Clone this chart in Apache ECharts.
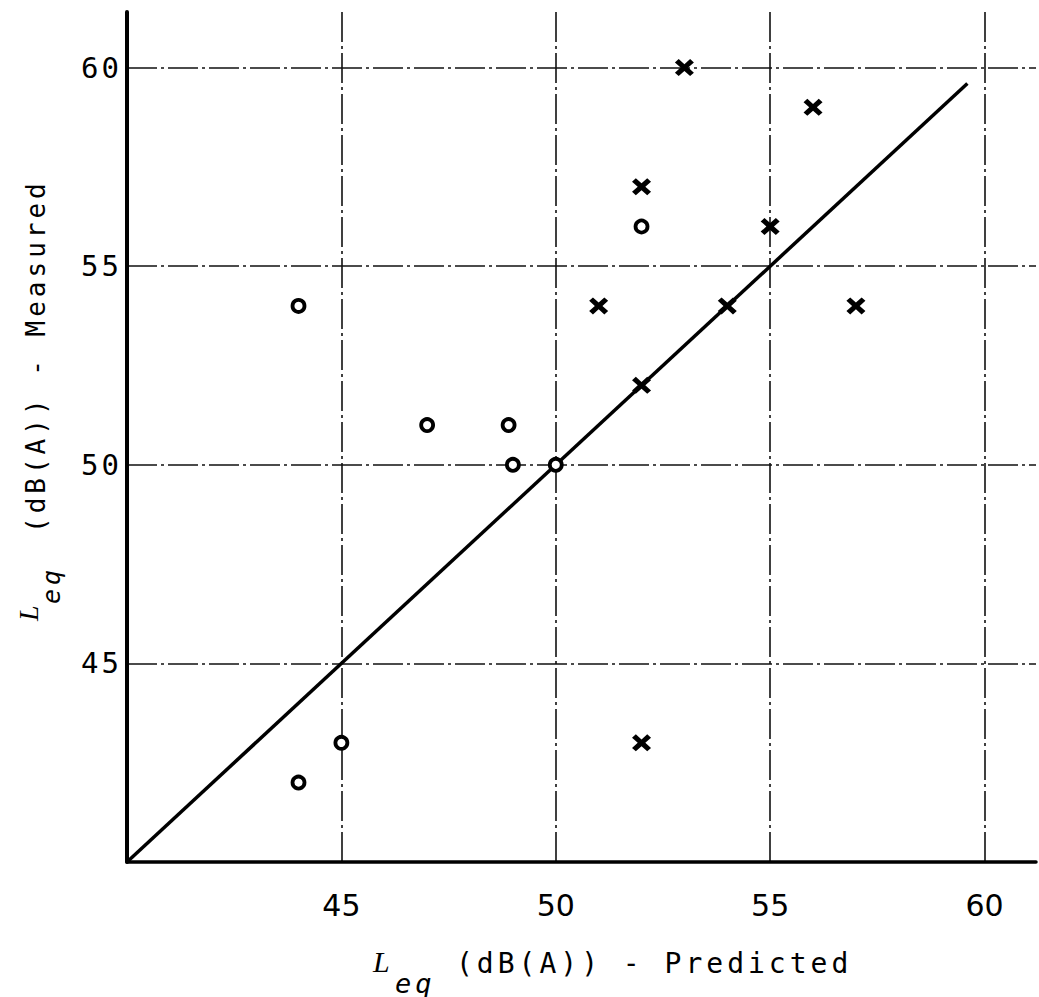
<!DOCTYPE html>
<html>
<head>
<meta charset="utf-8">
<script src="https://cdn.jsdelivr.net/npm/echarts@6/dist/echarts.min.js"></script>
<style>
  html, body { margin: 0; padding: 0; background: #fff; }
  #chart { width: 1039px; height: 997px; }
</style>
</head>
<body>
<div id="chart"></div>
<script>
// Leq in dB(A): predicted (x) against measured (y)
const circlePredicted = [44, 47, 48.9, 49, 50, 52, 44, 45];
const circleMeasured  = [54, 51, 51, 50, 50, 56, 42, 43];

const crossPredicted = [53, 56, 52, 55, 51, 54, 57, 52, 52];
const crossMeasured  = [60, 59, 57, 56, 54, 54, 54, 52, 43];

// line of equality (predicted = measured)
const equalityLine = [40, 59.6];

const xTickLabels = [45, 50, 55, 60];
const yTickLabels = [45, 50, 55, 60];

const xTitle = '(dB(A)) - Predicted';
const yTitle = '(dB(A)) - Measured';
const subscript = 'eq';

const pair = (xs, ys) => xs.map((x, i) => [x, ys[i]]);

const MONO = '"DejaVu Sans Mono", "Liberation Mono", monospace';
const SANS = '"DejaVu Sans", "Liberation Sans", sans-serif';
const SERIF = '"Liberation Serif", "DejaVu Serif", serif';
const INK = '#000';

const crossPath = 'path://M4,0 L10,6 L16,0 L20,4 L14,10 L20,16 L16,20 L10,14 L4,20 L0,16 L6,10 L0,4 Z';

const gridLine = { color: '#111', width: 1.6, type: [30, 4, 3, 4] };

const chart = echarts.init(document.getElementById('chart'), null, { renderer: 'svg' });

chart.setOption({
  animation: false,
  backgroundColor: '#fff',
  grid: { left: 127, right: 0, top: 12, bottom: 135 },
  xAxis: {
    type: 'value',
    min: 40, max: 61.2, interval: 5,
    axisLine: { show: true, onZero: false, lineStyle: { color: INK, width: 3.5 } },
    axisTick: { show: false },
    splitLine: { show: true, showMinLine: false, showMaxLine: false, lineStyle: gridLine },
    axisLabel: {
      margin: 28,
      color: INK,
      fontFamily: SANS,
      fontWeight: 500,
      fontSize: 30,
      formatter: v => (xTickLabels.includes(v) ? String(v) : '')
    }
  },
  yAxis: {
    type: 'value',
    min: 40, max: 61.4, interval: 5,
    axisLine: { show: true, onZero: false, lineStyle: { color: INK, width: 4 } },
    axisTick: { show: false },
    splitLine: { show: true, showMinLine: false, showMaxLine: false, lineStyle: gridLine },
    axisLabel: {
      margin: 5,
      color: INK,
      fontFamily: MONO,
      fontSize: 29,
      formatter: v => (yTickLabels.includes(v) ? String(v) : '')
    }
  },
  series: [
    {
      type: 'line',
      data: equalityLine.map(v => [v, v]),
      symbol: 'none',
      silent: true,
      lineStyle: { color: INK, width: 3.5 },
      z: 3
    },
    {
      type: 'scatter',
      data: pair(circlePredicted, circleMeasured),
      symbol: 'circle',
      symbolSize: 12,
      itemStyle: { color: '#fff', borderColor: INK, borderWidth: 3.8, opacity: 1 },
      z: 4
    },
    {
      type: 'scatter',
      data: pair(crossPredicted, crossMeasured),
      symbol: crossPath,
      symbolSize: [19, 17],
      symbolKeepAspect: false,
      itemStyle: { color: INK, opacity: 1 },
      z: 4
    }
  ],
  graphic: [
    // x-axis title
    { type: 'text', x: 373, y: 961,
      style: { text: 'L', fill: INK, font: 'italic 30px ' + SERIF,
               align: 'left', verticalAlign: 'middle', textAlign: 'left', textVerticalAlign: 'middle' } },
    { type: 'text', x: 395, y: 983,
      style: { text: subscript, fill: INK, font: 'oblique 27px ' + MONO,
               align: 'left', verticalAlign: 'middle', textAlign: 'left', textVerticalAlign: 'middle' } },
    { type: 'text', x: 456, y: 963,
      style: { text: xTitle, fill: INK, font: '28px ' + MONO,
               align: 'left', verticalAlign: 'middle', textAlign: 'left', textVerticalAlign: 'middle' } },
    // y-axis title, reading upwards
    { type: 'text', x: 28, y: 621, rotation: Math.PI / 2,
      style: { text: 'L', fill: INK, font: 'italic 28px ' + SERIF,
               align: 'left', verticalAlign: 'middle', textAlign: 'left', textVerticalAlign: 'middle' } },
    { type: 'text', x: 51, y: 604, rotation: Math.PI / 2,
      style: { text: subscript, fill: INK, font: 'oblique 25px ' + MONO,
               align: 'left', verticalAlign: 'middle', textAlign: 'left', textVerticalAlign: 'middle' } },
    { type: 'text', x: 36, y: 533, rotation: Math.PI / 2,
      style: { text: yTitle, fill: INK, font: '26px ' + MONO,
               align: 'left', verticalAlign: 'middle', textAlign: 'left', textVerticalAlign: 'middle' } }
  ]
});

// typewriter-style letter spacing: wide for the axis titles, a little for the y tick labels
const wideTexts = new Set([xTitle, yTitle, subscript]);
function spaceLetters() {
  document.querySelectorAll('#chart svg text').forEach(t => {
    const s = t.textContent;
    if (wideTexts.has(s)) {
      t.style.letterSpacing = '4px';
    } else if (t.getAttribute('text-anchor') === 'end') {
      t.style.letterSpacing = '3px';
    }
  });
}
chart.on('rendered', spaceLetters);
spaceLetters();
requestAnimationFrame(spaceLetters);
</script>
</body>
</html>
